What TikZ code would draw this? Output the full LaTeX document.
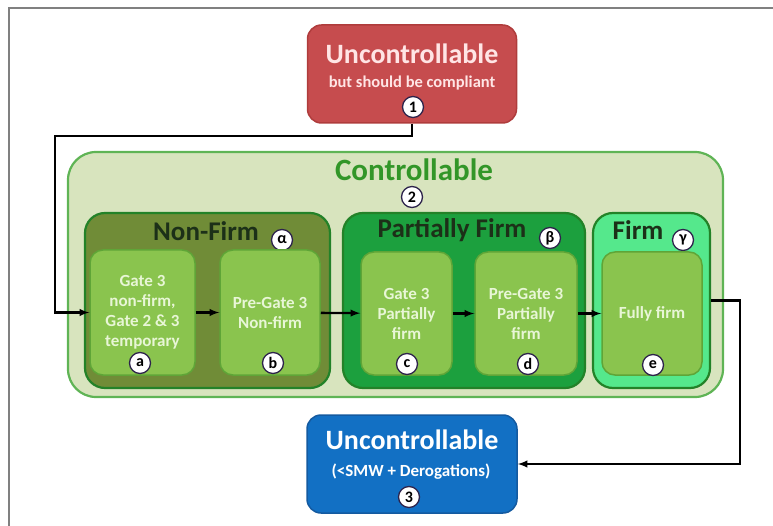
\documentclass[tikz,border=0pt]{standalone}
\usepackage{fontspec}
\setmainfont{Carlito}
\definecolor{redfill}{RGB}{198,76,78}
\definecolor{redline}{RGB}{175,60,60}
\definecolor{bluefill}{RGB}{18,112,196}
\definecolor{blueline}{RGB}{20,90,160}
\definecolor{ctrlfill}{RGB}{216,228,190}
\definecolor{ctrlline}{RGB}{95,180,85}
\definecolor{ctrltext}{RGB}{50,150,40}
\definecolor{nffill}{RGB}{112,140,55}
\definecolor{pffill}{RGB}{28,160,62}
\definecolor{ffill}{RGB}{85,232,140}
\definecolor{grpline}{RGB}{35,130,40}
\definecolor{infill}{RGB}{138,196,78}
\definecolor{inline}{RGB}{95,165,55}
\definecolor{intext}{RGB}{232,246,214}
\definecolor{darktitle}{RGB}{28,48,24}
\definecolor{badgeline}{RGB}{45,35,75}

\begin{document}
\begin{tikzpicture}[x=1pt, y=-1pt,
  grp/.style={draw=grpline, rounded corners=20pt, line width=2.2pt, inner sep=0pt},
  inbox/.style={draw=inline, fill=infill, rounded corners=13pt, line width=1.5pt, text=intext, align=center, inner sep=0pt, font=\bfseries\fontsize{17}{20}\selectfont},
  title/.style={font=\bfseries\fontsize{27}{30}\selectfont, text=darktitle, inner sep=0pt},
  badge/.style={circle, draw=badgeline, fill=white, line width=1.3pt, minimum size=21pt, inner sep=0pt, font=\bfseries\fontsize{16}{16}\selectfont},
  arr/.style={-latex, line width=2.3pt, black}]
    \useasboundingbox (0,0) rectangle (773,526);
    \draw[gray, line width=1.5pt] (9,526) -- (9,8) -- (773,8);
    \node[draw=redline, fill=redfill, rounded corners=14pt, line width=1.5pt, minimum width=209pt, minimum height=98pt] (u1) at (412,74) {};
    \node[text=white!90!red, font=\bfseries\fontsize{28}{30}\selectfont] (u1t) at (412,54) {Uncontrollable};
    \node[text=white!90!red, font=\bfseries\fontsize{16.5}{18}\selectfont] (u1s) at (412,83) {but should be compliant};
    \node[badge] (n1) at (413,107) {1};
    \node[grp, draw=ctrlline, fill=ctrlfill, rounded corners=28pt, minimum width=655pt, minimum height=245pt] (ctrl) at (395.5,274.5) {};
    \node[title, text=ctrltext, font=\bfseries\fontsize{31}{33}\selectfont] (ctrlt) at (414,170) {Controllable};
    \node[badge] (n2) at (412,197) {2};
    \node[grp, fill=nffill, minimum width=245pt, minimum height=175pt] (nf) at (207.5,300.5) {};
    \node[title] (nft) at (206,231) {Non-Firm};
    \node[badge] (na) at (282,240) {α};
    \node[grp, fill=pffill, minimum width=242pt, minimum height=175pt] (pf) at (464,300.5) {};
    \node[title] (pft) at (452,230) {Partially Firm};
    \node[badge] (nb) at (550,238) {β};
    \node[grp, fill=ffill, minimum width=117pt, minimum height=175pt] (ff) at (651.5,300.5) {};
    \node[title] (fft) at (638,230) {Firm};
    \node[badge] (ng) at (683,240) {γ};
    \node[inbox, minimum width=105pt, minimum height=125pt] (va) at (142.5,312.5) {Gate 3\\non-firm,\\Gate 2 \& 3\\temporary};
    \node[inbox, minimum width=100pt, minimum height=125pt] (vb) at (270,312.5) {Pre-Gate 3\\Non-firm};
    \node[inbox, minimum width=91pt, minimum height=123pt] (vc) at (406.5,313.5) {Gate 3\\Partially\\firm};
    \node[inbox, minimum width=102pt, minimum height=123pt] (vd) at (526,313.5) {Pre-Gate 3\\Partially\\firm};
    \node[inbox, minimum width=100pt, minimum height=123pt] (ve) at (652,313.5) {Fully firm};
    \node[badge] (ba) at (140,363) {a};
    \node[badge] (bb) at (273,363) {b};
    \node[badge] (bc) at (407,364) {c};
    \node[badge] (bd) at (528,364) {d};
    \node[badge] (be) at (653,365) {e};
    \node[draw=blueline, fill=bluefill, rounded corners=14pt, line width=1.5pt, minimum width=210pt, minimum height=98pt] (u3) at (412,464) {};
    \node[text=white, font=\bfseries\fontsize{28}{30}\selectfont] (u3t) at (412,440) {Uncontrollable};
    \node[text=white, font=\bfseries\fontsize{17}{18}\selectfont] (u3s) at (411,472) {(<SMW + Derogations)};
    \node[badge] (n3) at (409,497) {3};
    \coordinate (cl) at (55,136);
    \coordinate (cr) at (740,464);
    \draw[arr] (u1.south) |- (cl) |- (va.west);
    \draw[arr] (va) edge (vb) (vb) edge (vc) (vc) edge (vd) (vd) edge (ve);
    \draw[arr] (ff.east) -| (cr) -- (u3.east);
\end{tikzpicture}
\end{document}
